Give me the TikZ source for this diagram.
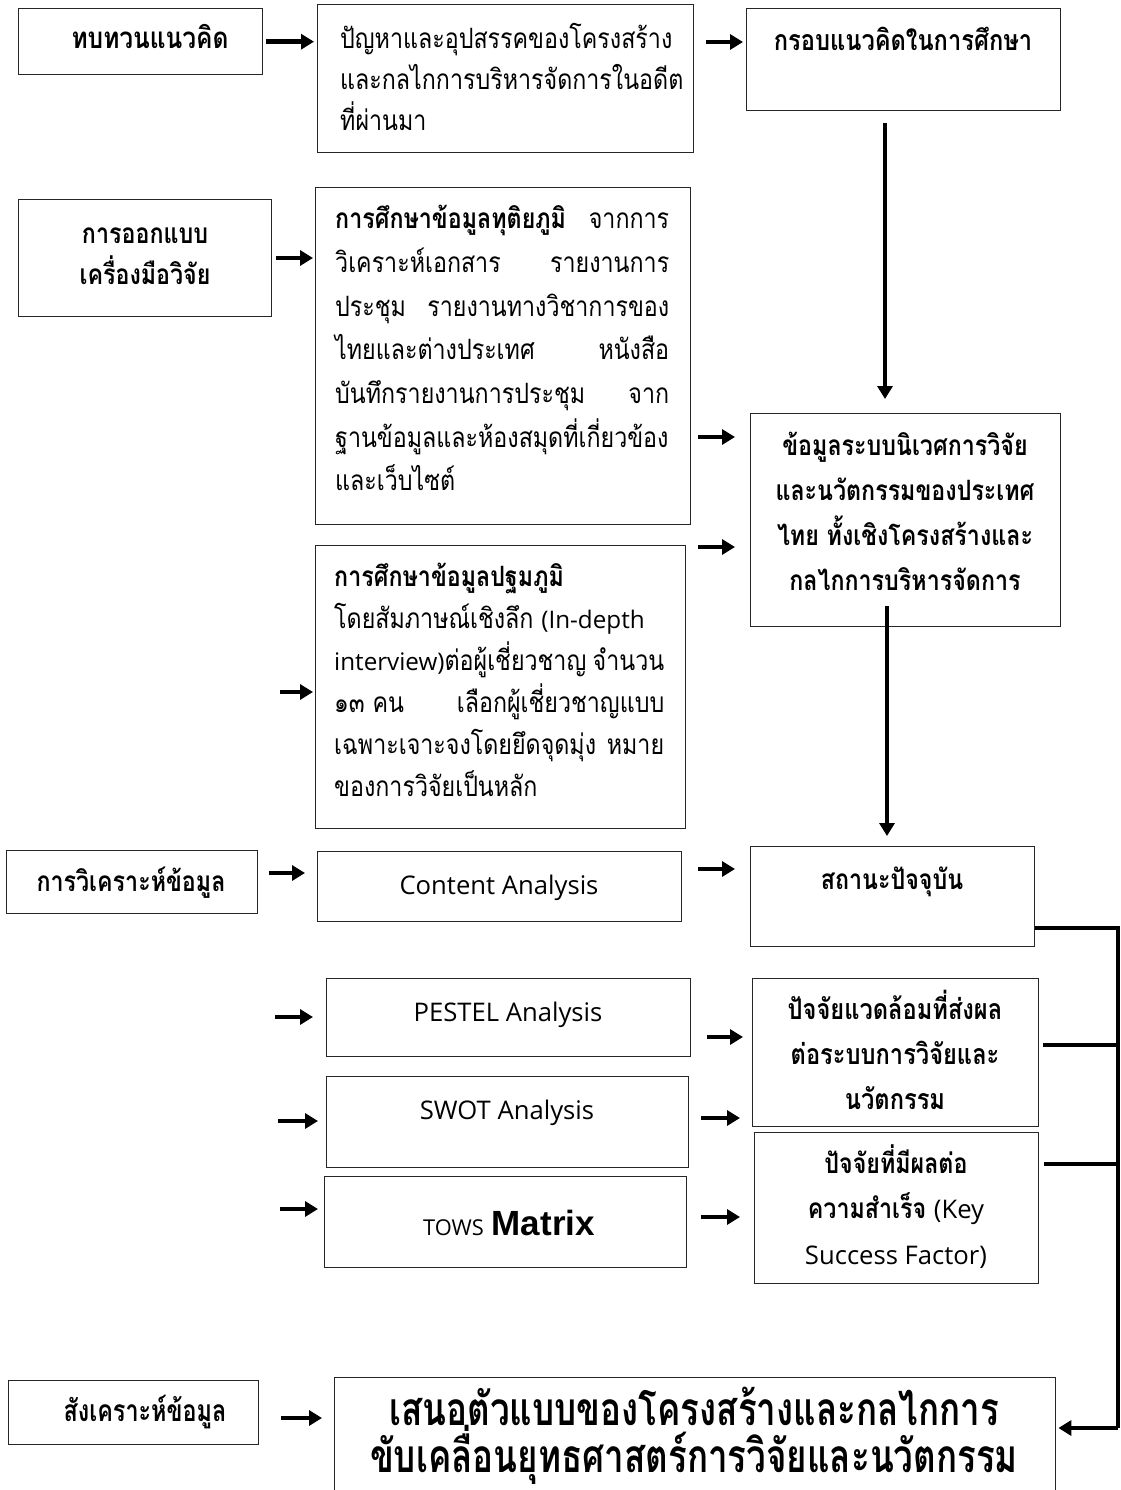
\documentclass[tikz,border=0pt]{standalone}
\usepackage{fontspec}
\setmainfont[Script=Thai,FakeStretch=0.83]{Loma}
\newfontfamily\lat[Scale=0.95]{Open Sans}
\newfontfamily\thc[Script=Thai,FakeStretch=0.76]{Loma}
\newfontfamily\thd[Script=Thai,FakeStretch=0.78]{Loma}
\newfontfamily\ari{Liberation Sans}
\usetikzlibrary{arrows.meta}
\newcommand\fsz[2]{\fontsize{#1}{#2}\selectfont}
\newcommand\jl[2]{\makebox[#1pt][s]{#2}}
\lineskiplimit=-1000pt
\lineskip=0pt
\begin{document}
\begin{tikzpicture}[x=1pt,y=-1pt,
  box/.style={draw=black!85, line width=1.4pt, inner sep=0, anchor=north west},
  arr/.style={line width=4.5pt, -{Triangle[length=13pt,width=15pt]}},
  bar/.style={line width=4.5pt},
  tx/.style={inner sep=0, anchor=north west, align=left},
  tc/.style={inner sep=0, anchor=north, align=center},
  tb/.style={inner sep=0, anchor=base},
]
\useasboundingbox (0,0) rectangle (1120,1490);
\fill[white] (0,0) rectangle (1120,1490);
% boxes
\node[box, minimum width=244, minimum height=66] (b1) at (18,8) {};
\node[box, minimum width=376, minimum height=148] (b2) at (317,4) {};
\node[box, minimum width=314, minimum height=102] (b3) at (746,8) {};
\node[box, minimum width=253, minimum height=117] (b4) at (18,199) {};
\node[box, minimum width=375, minimum height=337] (b5) at (315,187) {};
\node[box, minimum width=310, minimum height=213] (b6) at (750,413) {};
\node[box, minimum width=370, minimum height=283] (b7) at (315,545) {};
\node[box, minimum width=251, minimum height=63] (b8) at (6,850) {};
\node[box, minimum width=364, minimum height=70] (b9) at (317,851) {};
\node[box, minimum width=284, minimum height=100] (b10) at (750,846) {};
\node[box, minimum width=364, minimum height=78] (b11) at (326,978) {};
\node[box, minimum width=286, minimum height=148] (b12) at (752,978) {};
\node[box, minimum width=362, minimum height=91] (b13) at (326,1076) {};
\node[box, minimum width=284, minimum height=151] (b14) at (754,1132) {};
\node[box, minimum width=362, minimum height=91] (b15) at (324,1176) {};
\node[box, minimum width=250, minimum height=64] (b16) at (8,1380) {};
\node[box, minimum width=721, minimum height=130] (b17) at (334,1377) {};
% texts
\node[tb, font=\fsz{29.5}{41}\bfseries] (t1) at (150,49) {ทบทวนแนวคิด};
\node[tx, font=\fsz{28}{41}] (t2) at (340,20) {\strut ปัญหาและอุปสรรคของโครงสร้าง\\และกลไกการบริหารจัดการในอดีต\\ที่ผ่านมา};
\node[tb, font=\fsz{28.5}{41}\bfseries] (t3) at (903,51) {กรอบแนวคิดในการศึกษา};
\node[tc, font=\fsz{28}{41}\bfseries] (t4) at (145,215) {\strut การออกแบบ\\เครื่องมือวิจัย};
\node[tx, font=\fsz{28}{43.7}] (t5) at (335,198) {\strut\jl{334}{\textbf{การศึกษาข้อมูลทุติยภูมิ} จากการ}\\
\jl{334}{วิเคราะห์เอกสาร รายงานการ}\\
\jl{334}{ประชุม รายงานทางวิชาการของ}\\
\jl{334}{ไทยและต่างประเทศ หนังสือ}\\
\jl{334}{บันทึกรายงานการประชุม จาก}\\
ฐานข้อมูลและห้องสมุดที่เกี่ยวข้อง\\
และเว็บไซต์};
\node[tc, font=\fsz{28}{45}\bfseries] (t6) at (905,424) {\strut ข้อมูลระบบนิเวศการวิจัย\\และนวัตกรรมของประเทศ\\ไทย ทั้งเชิงโครงสร้างและ\\กลไกการบริหารจัดการ};
\node[tx, font=\fsz{28}{42}] (t7) at (334,557) {\strut\textbf{การศึกษาข้อมูลปฐมภูมิ}\\
โดยสัมภาษณ์เชิงลึก {\fsz{25.5}{42}\lat(In-depth}\\
\jl{330}{{\fsz{25.5}{42}\lat interview)}ต่อผู้เชี่ยวชาญ จำนวน}\\
\jl{330}{\mbox{๑๓ คน} เลือกผู้เชี่ยวชาญแบบ}\\
\jl{330}{เฉพาะเจาะจงโดยยึดจุดมุ่ง หมาย}\\
ของการวิจัยเป็นหลัก};
\node[tb, font=\fsz{28}{41}\bfseries] (t8) at (131,891) {การวิเคราะห์ข้อมูล};
\node[tb, font=\fsz{27}{41}\lat] (t9) at (499,894) {Content Analysis};
\node[tb, font=\fsz{28}{41}\bfseries] (t10) at (892,889) {สถานะปัจจุบัน};
\node[tb, font=\fsz{27}{41}\lat] (t11) at (508,1021) {PESTEL Analysis};
\node[tc, font=\fsz{28.5}{45}\bfseries] (t12) at (895,988) {\strut ปัจจัยแวดล้อมที่ส่งผล\\ต่อระบบการวิจัยและ\\นวัตกรรม};
\node[tb, font=\fsz{27}{41}\lat] (t13) at (507,1119) {SWOT Analysis};
\node[tc, font=\fsz{28}{45.5}\bfseries] (t14) at (896,1141) {\strut ปัจจัยที่มีผลต่อ\\ความสำเร็จ {\mdseries\fsz{27}{45.5}\lat (Key}\\{\mdseries\fsz{27}{45.5}\lat Success Factor)}};
\node[tb] (t15) at (509,1235) {{\lat\fsz{23}{20}TOWS}\hspace{8pt}{\ari\bfseries\fsz{35}{40}Matrix}};
\node[tb, font=\fsz{30}{41}\thd\bfseries] (t16) at (145,1421) {สังเคราะห์ข้อมูล};
\node[tc, font=\fsz{46}{46.5}\thc\bfseries] (t17) at (694,1387) {\strut เสนอตัวแบบของโครงสร้างและกลไกการ\\ขับเคลื่อนยุทธศาสตร์การวิจัยและนวัตกรรม};
% free arrow starts
\coordinate (f7) at (280,692);
\coordinate (f11) at (275,1017);
\coordinate (f13) at (278,1121);
\coordinate (f15) at (280,1209);
\coordinate (v1s) at (885,123);
\coordinate (v2s) at (887,606);
\coordinate (sp) at (1118,928);
% horizontal arrows
\draw[arr, shorten <=3pt, shorten >=3pt] (b1.east) -- (b1.east -| b2.west);
\draw[arr, shorten <=12pt, shorten >=3pt] (b2.east |- 0,42) -- (b3.west |- 0,42);
\draw[arr, shorten <=4pt, shorten >=2pt] (b4.east |- 0,258) -- (b5.west |- 0,258);
\draw[arr, shorten <=7pt, shorten >=15pt] (b5.east |- 0,437) -- (b6.west |- 0,437);
\draw[arr, shorten <=12pt, shorten >=15pt] (b7.east |- 0,547) -- (b6.west |- 0,547);
\draw[arr, shorten >=2pt] (f7) -- (f7 -| b7.west);
\draw[arr, shorten <=11pt, shorten >=12pt] (b8.east |- 0,873) -- (b9.west |- 0,873);
\draw[arr, shorten <=16pt, shorten >=15pt] (b9.east |- 0,869) -- (b10.west |- 0,869);
\draw[arr, shorten >=13pt] (f11) -- (f11 -| b11.west);
\draw[arr, shorten <=16pt, shorten >=9pt] (b11.east |- 0,1037) -- (b12.west |- 0,1037);
\draw[arr, shorten >=8pt] (f13) -- (f13 -| b13.west);
\draw[arr, shorten <=12pt, shorten >=12pt] (b13.east |- 0,1118) -- (b12.west |- 0,1118);
\draw[arr, shorten >=6pt] (f15) -- (f15 -| b15.west);
\draw[arr, shorten <=14pt, shorten >=14pt] (b15.east |- 0,1217) -- (b14.west |- 0,1217);
\draw[arr, shorten <=22pt, shorten >=12pt] (b16.east |- 0,1418) -- (b17.west |- 0,1418);
% vertical arrows
\draw[arr, shorten >=14pt] (v1s) -- (v1s |- b6.north);
\draw[arr, shorten >=10pt] (v2s) -- (v2s |- b10.north);
% right bracket
\draw[bar, line join=miter] (b10.east |- sp) -- (sp) -- (sp |- 0,1428);
\draw[arr, shorten >=2pt] (sp |- 0,1428) -- (b17.east |- 0,1428);
\draw[bar, shorten <=4pt] (b12.east |- 0,1045) -- (sp |- 0,1045);
\draw[bar, shorten <=5pt] (b14.east |- 0,1164) -- (sp |- 0,1164);
\end{tikzpicture}
\end{document}
